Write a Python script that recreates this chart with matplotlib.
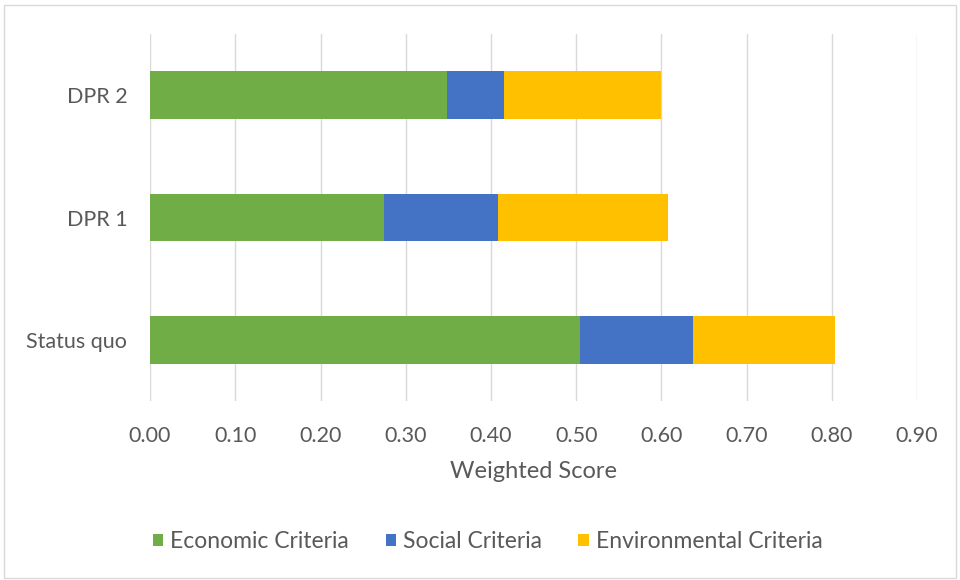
import matplotlib.pyplot as plt
from matplotlib.patches import Rectangle
import numpy as np

# scenarios, bottom to top
scenarios = ['Status quo', 'DPR 1', 'DPR 2']
economic = [0.504, 0.275, 0.349]
social = [0.133, 0.133, 0.066]
environmental = [0.167, 0.200, 0.184]

series_names = ['Economic Criteria', 'Social Criteria', 'Environmental Criteria']
series_colors = ['#70AD47', '#4472C4', '#FFC000']

x_ticks = np.arange(0, 0.91, 0.1)

plt.rcParams['font.family'] = ['Lato', 'DejaVu Sans']
text_color = '#595959'

fig = plt.figure(figsize=(9.6, 5.8), dpi=100)
ax = fig.add_axes([0.1563, 0.3086, 0.799, 0.6328])

# chart area border
fig.patches.append(Rectangle((4 / 960, 2 / 580), 952 / 960, 573 / 580,
                             transform=fig.transFigure, fill=False,
                             edgecolor='#D9D9D9', linewidth=1))

y = np.arange(len(scenarios))
left = np.zeros(len(scenarios))
for vals, name, col in zip([economic, social, environmental], series_names, series_colors):
    ax.barh(y, vals, left=left, height=0.39, color=col, label=name, zorder=3)
    left = left + np.array(vals)

ax.set_xlim(0, 0.9)
ax.set_ylim(-0.5, 2.5)
ax.set_xticks(x_ticks)
ax.set_xticklabels(['%.2f' % t for t in x_ticks])
ax.set_yticks(y)
ax.set_yticklabels(scenarios)
ax.grid(axis='x', color='#D9D9D9', linewidth=1, zorder=0)
for s in ax.spines.values():
    s.set_visible(False)
ax.tick_params(axis='both', length=0, colors=text_color, labelsize=15.5)
ax.tick_params(axis='x', pad=18)
ax.tick_params(axis='y', pad=16.5)
ax.set_xlabel('Weighted Score', fontsize=17, color=text_color, labelpad=11)

fig.legend(loc='center', bbox_to_anchor=(0.508, 0.066), ncol=3, frameon=False,
           fontsize=16.5, labelcolor=text_color, handlelength=0.45, handleheight=0.45,
           handletextpad=0.3, columnspacing=1.6)

fig.savefig('out.png', dpi=100)
